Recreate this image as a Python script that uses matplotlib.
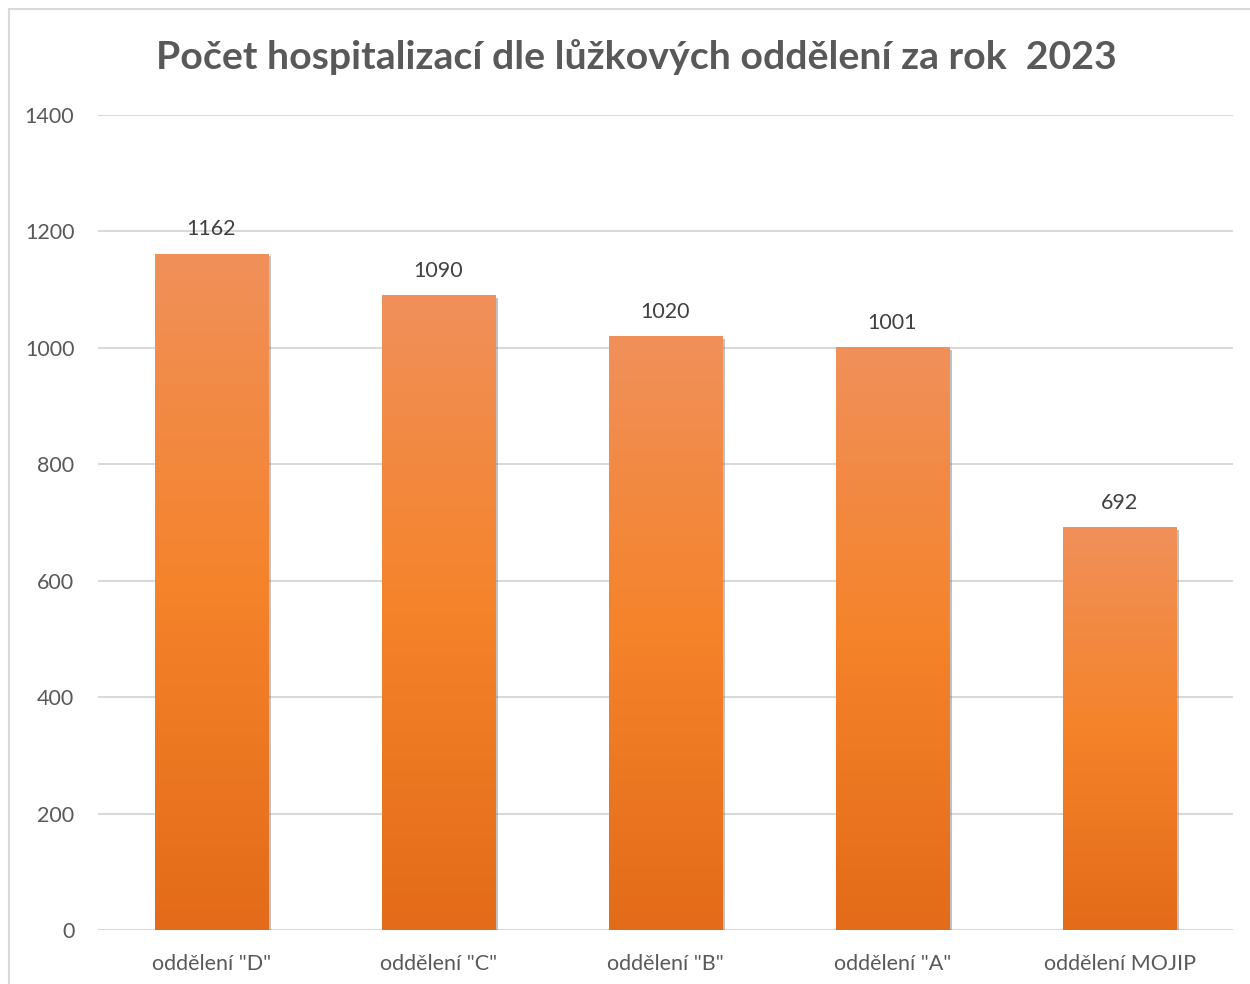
import matplotlib.pyplot as plt
import numpy as np
from matplotlib.colors import LinearSegmentedColormap
from matplotlib.patches import Rectangle
import matplotlib.patheffects as pe

categories = ['oddělení "D"', 'oddělení "C"', 'oddělení "B"', 'oddělení "A"', 'oddělení MOJIP']
values = [1162, 1090, 1020, 1001, 692]
title = "Počet hospitalizací dle lůžkových oddělení za rok  2023"

plt.rcParams['font.family'] = ['Lato', 'DejaVu Sans']

fig = plt.figure(figsize=(12.5, 9.84), dpi=100)
ax = fig.add_axes([0.0784, 0.0549, 0.908, 0.8282])

# outer frame (only left/top visible in the reference)
fig.patches.append(Rectangle((9 / 1250, -0.1), 1.2, 1 - 9 / 984 + 0.1,
                             transform=fig.transFigure, fill=False,
                             edgecolor='#D9D9D9', linewidth=1.5))

grad = LinearSegmentedColormap.from_list('g', ['#E36B19', '#F5832A', '#F0905A'])
x = np.arange(len(categories))
width = 0.5
bars = ax.bar(x, values, width=width, color='#F08030', zorder=2,
              path_effects=[pe.SimplePatchShadow(offset=(2, -2), shadow_rgbFace='#777777', alpha=0.45),
                            pe.Normal()])
img = np.linspace(0, 1, 256).reshape(-1, 1)
for b in bars:
    x0, w, h = b.get_x(), b.get_width(), b.get_height()
    im = ax.imshow(img, cmap=grad, origin='lower', aspect='auto',
                   extent=[x0, x0 + w, 0, h], zorder=3)
    im.set_clip_path(b)
    ax.text(x0 + w / 2, h + 25, str(int(h)), ha='center', va='bottom',
            fontsize=15.5, color='#404040', zorder=4)

ax.set_xlim(-0.5, len(categories) - 0.5)
ax.set_ylim(0, 1400)
ax.set_yticks(range(0, 1401, 200))
ax.set_xticks(x)
ax.set_xticklabels(categories)
ax.tick_params(axis='both', length=0, labelsize=15.5, labelcolor='#595959')
ax.tick_params(axis='y', pad=17)
ax.tick_params(axis='x', pad=17)
ax.grid(axis='y', color='#D9D9D9', linewidth=1.5, zorder=0)
for s in ax.spines.values():
    s.set_visible(False)
ax.set_axisbelow(True)

fig.text(0.509, 1 - 57 / 984, title, ha='center', va='center',
         fontsize=28.3, fontweight='bold', color='#595959')

fig.savefig('out.png', dpi=100)
